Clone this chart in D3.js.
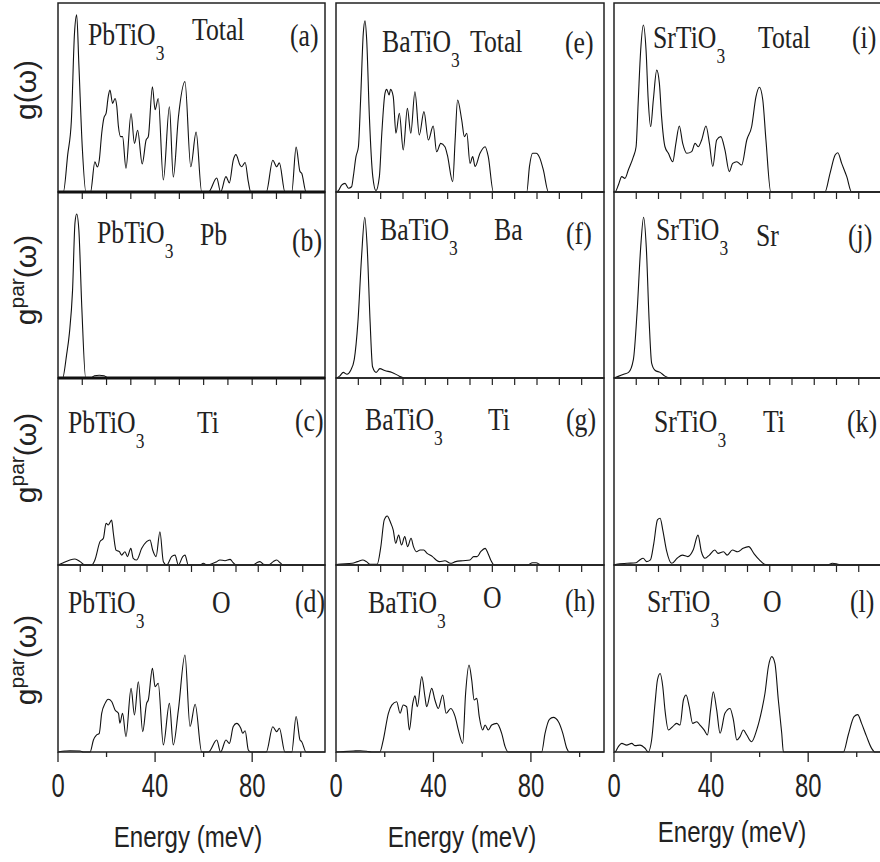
<!DOCTYPE html>
<html><head><meta charset="utf-8">
<script src="https://cdn.jsdelivr.net/npm/d3@7"></script>
<style>body{margin:0;background:#fff}</style>
</head><body><svg id="c" width="880" height="862"></svg>
<script>
// ---------------- data ----------------
const compounds = ["PbTiO", "BaTiO", "SrTiO"];
const partials = [["Total","Pb","Ti","O"],["Total","Ba","Ti","O"],["Total","Sr","Ti","O"]];
const panelLetters = [["(a)","(b)","(c)","(d)"],["(e)","(f)","(g)","(h)"],["(i)","(j)","(k)","(l)"]];
const energyDomain = [0, 110];
const xTickLabels = [0, 40, 80];
const xMinorTicks = [20, 60, 100];
const xAxisTitle = "Energy (meV)";

// [energy meV, g (arb. units)]
const pbTiO3Total = [[0,0],[2.2,0],[4,0.2],[5.5,0.38],[6.8,0.85],[7.7,0.947],[8.6,0.68],[10,0.24],[11.5,0],[13.4,0],[15.2,0.162],[16.2,0.134],[17,0.17],[18,0.313],[19,0.4],[19.8,0.42],[20.7,0.51],[21.4,0.545],[22.5,0.474],[23.5,0.5],[24.2,0.46],[24.9,0.35],[25.8,0.296],[26.6,0.296],[28,0.127],[30.1,0.42],[31.5,0.26],[32.8,0.33],[34.7,0.15],[36.3,0.278],[37.2,0.296],[38.9,0.563],[40,0.44],[41.3,0.5],[43.4,0.064],[45.9,0.456],[47.5,0.08],[49.6,0.4],[52.3,0.59],[54.7,0.135],[56.9,0.32],[59.2,0],[62,0],[65.4,0.075],[67,0],[69.2,0.082],[70.6,0.049],[72.2,0.171],[73.3,0.2],[75,0.144],[75.7,0.135],[77.1,0.158],[78.4,0.055],[79.4,0],[85.8,0],[88.5,0.17],[90.1,0.135],[91.2,0.156],[93.5,0],[96.3,0],[98.1,0.24],[99.7,0.109],[100.4,0.1],[102.2,0],[110,0]];
const pbTiO3Pb = [[0,0],[1.9,0],[3.5,0.12],[4.7,0.24],[6,0.47],[7,0.83],[7.7,0.877],[8.6,0.79],[9.8,0.38],[11.4,0],[13.5,0],[15,0.012],[17,0.015],[19,0.012],[20.8,0],[110,0]];
const pbTiO3Ti = [[0,0],[2.2,0.012],[4.9,0.027],[7,0.032],[9.1,0.018],[11.1,0],[13.9,0],[15.2,0.027],[17.3,0.125],[18.7,0.143],[19.8,0.223],[20.7,0.214],[22.1,0.24],[22.8,0.17],[23.9,0.08],[25.3,0.071],[26.2,0.053],[27.6,0.071],[28.6,0.045],[30,0.089],[31,0.036],[32.4,0.027],[34.5,0.089],[36.5,0.125],[37.9,0.134],[39,0.08],[40.4,0.045],[42,0.178],[43.4,0.018],[44.8,0],[46.8,0.045],[48.2,0.053],[49.6,0],[51.4,0.045],[52.3,0.053],[53.7,0],[58.5,0],[59.9,0.009],[61.3,0],[65.4,0.018],[66.7,0.027],[68.8,0.023],[70.9,0.03],[72.2,0.012],[73.6,0],[80.5,0],[81.9,0.012],[83.2,0.018],[84.6,0.004],[86.7,0],[88.7,0.018],[90.1,0.027],[91.5,0.012],[92.8,0],[110,0]];
const pbTiO3O = [[0,0],[2.9,0.005],[4.9,0.007],[9.1,0.005],[10.4,0],[13.2,0],[14.6,0.064],[15.9,0.091],[17,0.1],[18,0.207],[19.4,0.26],[20.7,0.282],[22.1,0.27],[23.5,0.225],[24.9,0.207],[25.5,0.154],[26.6,0.207],[28,0.082],[30.1,0.34],[31.5,0.198],[33.1,0.376],[34.9,0.109],[36.5,0.26],[37.2,0.278],[38.9,0.447],[40,0.349],[41.3,0.367],[43.4,0.038],[45.9,0.26],[47.5,0.038],[49.6,0.225],[52.3,0.519],[54.4,0.136],[56.5,0.255],[59.2,0],[62,0],[65.4,0.064],[67,0],[69.2,0.064],[70.6,0.046],[72.2,0.136],[73.6,0.153],[75.3,0.127],[76.1,0.1],[77.1,0.114],[78.4,0.011],[79.4,0],[85.8,0],[88.5,0.135],[90.1,0.109],[91.2,0.127],[93.5,0],[96.3,0],[98.1,0.19],[99.7,0.064],[100.4,0.055],[102.2,0],[110,0]];

const baTiO3Total = [[0,0],[0.95,0.007],[2.3,0.037],[3.7,0.046],[5.1,0.02],[6.4,0.028],[7.1,0.082],[8.2,0.189],[9.2,0.242],[10.1,0.492],[11.2,0.849],[11.9,0.916],[12.6,0.813],[13.7,0.403],[15.1,0.082],[16.4,0.007],[17.8,0.082],[18.8,0.314],[20.1,0.528],[20.8,0.549],[21.8,0.519],[22.4,0.549],[23.5,0.51],[24.6,0.314],[26,0.421],[27.6,0.225],[29.3,0.447],[30.7,0.314],[32.4,0.536],[34.2,0.305],[36.1,0.43],[37.9,0.278],[39.9,0.353],[41.3,0.215],[43,0.26],[44.7,0.242],[45.7,0.198],[47.9,0.055],[48.9,0.278],[49.9,0.492],[51.6,0.385],[52.7,0.296],[53.7,0.314],[55,0.153],[56.1,0.189],[57.1,0.136],[59.1,0.207],[61.2,0.242],[62.5,0.189],[64.6,0],[78.3,0],[79.4,0.136],[80.7,0.207],[82.1,0.207],[83.7,0.18],[85.1,0.118],[87.2,0],[110,0]];
const baTiO3Ba = [[0,0],[1.5,0.01],[3,0.03],[4.5,0.02],[6,0.04],[7.5,0.1],[9,0.3],[10.5,0.65],[11.8,0.86],[12.8,0.7],[14,0.3],[15,0.06],[16.5,0.03],[18,0.05],[20,0.04],[23,0.03],[26,0.01],[28,0],[110,0]];
const baTiO3Ti = [[0,0],[0.8,0.004],[6.6,0.009],[8.8,0.018],[11,0.027],[12.5,0.018],[14,0.004],[16.9,0.004],[18.4,0.098],[19.8,0.241],[21,0.262],[22.5,0.223],[23.5,0.187],[24.5,0.116],[25.7,0.16],[26.9,0.107],[28.2,0.152],[29.4,0.098],[30.8,0.143],[31.8,0.098],[33,0.071],[34.5,0.08],[36,0.08],[37.4,0.062],[39.6,0.045],[41.1,0.027],[42.5,0.018],[44.7,0.023],[47,0.009],[49.1,0.018],[52.1,0.023],[55,0.027],[56.5,0.045],[57.9,0.045],[59.4,0.071],[61.2,0.089],[62.4,0.062],[63.5,0.027],[65,0],[78.5,0],[80.7,0.012],[82.1,0.012],[84.3,0],[110,0]];
const baTiO3O = [[0,0],[3,0.002],[7.1,0.005],[9.9,0.007],[12.6,0.004],[14.6,0],[18,0],[19.4,0.064],[21.5,0.207],[22.9,0.251],[24.9,0.269],[26.3,0.207],[27.6,0.251],[29,0.242],[30.1,0.118],[31.5,0.26],[32.4,0.3],[33.4,0.242],[35.2,0.403],[36.5,0.296],[37.2,0.242],[39.3,0.34],[40.6,0.278],[42,0.233],[43.8,0.305],[45.2,0.207],[47.1,0.233],[48.9,0.189],[50.2,0.118],[52,0.046],[53.2,0.314],[54.6,0.465],[55.7,0.385],[56.7,0.278],[57.8,0.287],[58.8,0.189],[60.2,0.118],[61.2,0.144],[62.5,0.118],[63.9,0.144],[66,0.153],[68,0.1],[69.4,0.029],[70.7,0],[84.4,0],[85.8,0.1],[87.6,0.175],[89.2,0.185],[91.3,0.162],[93.1,0.1],[94.7,0.02],[95.8,0],[110,0]];

const srTiO3Total = [[0,0],[0.4,0],[1.8,0.037],[3.2,0.082],[4.5,0.073],[5.9,0.118],[8,0.189],[9.1,0.242],[10,0.492],[11,0.759],[12.1,0.893],[13.2,0.759],[14.1,0.492],[15.1,0.35],[16.2,0.492],[17.6,0.652],[18.7,0.581],[19.6,0.403],[21,0.242],[22.4,0.207],[24.2,0.162],[25.5,0.26],[26.9,0.353],[28.3,0.26],[30,0.207],[32,0.216],[33.4,0.26],[34.7,0.242],[36.1,0.278],[37.9,0.353],[39.3,0.26],[40.7,0.136],[42.3,0.278],[44,0.296],[45.7,0.225],[47.5,0.109],[48.9,0.153],[50.6,0.162],[52.6,0.144],[54.7,0.278],[56.7,0.349],[58.5,0.51],[59.9,0.56],[61.3,0.492],[62.6,0.278],[64.6,0],[86.9,0],[89,0.1],[91.1,0.198],[92.2,0.21],[93.8,0.153],[95.9,0.082],[97.9,0],[110,0]];
const srTiO3Sr = [[0,0],[2,0.01],[4,0.02],[6,0.03],[8,0.1],[9.5,0.35],[11,0.7],[12.2,0.86],[13.3,0.7],[14.5,0.3],[15.5,0.08],[17,0.04],[19,0.03],[21,0.01],[23,0],[110,0]];
const srTiO3Ti = [[0,0],[1,0.004],[5.4,0.009],[9.1,0.012],[10.6,0.027],[12,0.036],[13.5,0.018],[15,0.027],[16.4,0.116],[17.9,0.241],[19,0.25],[20.1,0.187],[21.6,0.08],[23.8,0.009],[26,0.036],[28.2,0.053],[30.4,0.045],[32.6,0.08],[34.6,0.16],[36,0.071],[37.5,0.036],[39.3,0.053],[41.5,0.08],[42.9,0.062],[45.1,0.071],[46.6,0.053],[48.8,0.08],[51,0.071],[53.2,0.089],[55.5,0.098],[57.6,0.062],[59.9,0.027],[62,0.004],[64,0],[87.8,0],[90,0.009],[92.2,0.004],[93.7,0],[110,0]];
const srTiO3O = [[0,0],[0.4,0],[1.8,0.029],[3.2,0.046],[5.2,0.037],[7.3,0.046],[8.7,0.034],[10.7,0.037],[12.8,0.02],[14.1,0],[15.5,0.064],[16.9,0.26],[17.9,0.385],[19,0.42],[20.1,0.349],[21,0.225],[22.4,0.118],[24.2,0.136],[25.8,0.153],[27.2,0.144],[28.6,0.278],[29.7,0.305],[31,0.242],[32.4,0.153],[34.1,0.162],[35.4,0.144],[37.1,0.118],[38.5,0.091],[39.8,0.225],[40.9,0.322],[42.3,0.225],[43.7,0.1],[45.7,0.207],[47.8,0.233],[49.2,0.171],[50.6,0.064],[51.9,0.082],[53.3,0.118],[54.7,0.091],[56.7,0.055],[58.8,0.118],[60.9,0.225],[62.2,0.314],[63.6,0.456],[65,0.51],[66.3,0.474],[67.7,0.278],[69.1,0.1],[69.8,0],[94.5,0],[96.5,0.091],[98.9,0.189],[100.4,0.2],[102,0.153],[104.1,0.082],[106.2,0.018],[107.5,0],[110,0]];

const series = [
  [pbTiO3Total, pbTiO3Pb, pbTiO3Ti, pbTiO3O],
  [baTiO3Total, baTiO3Ba, baTiO3Ti, baTiO3O],
  [srTiO3Total, srTiO3Sr, srTiO3Ti, srTiO3O]
];

// ---------------- layout / style ----------------
const svg = d3.select("#c");
const colRanges = [[58, 325], [336, 604], [614, 881]];
const rowTops = [3, 192, 378, 565];
const rowBottoms = [192, 378, 565, 752];
const panelH = 187;
const serif = "'Liberation Serif','Times New Roman',serif";
const sans = "'Liberation Sans',Arial,sans-serif";
const ink = "#222";

// label placements: [compoundX, compoundY, partX, partY, letterX, letterY]
const labelPos = [
  [[88,45,192,40,290,46],[97,243,200,245,292,251],[68,433,197,433,295,431],[68,613,212,613,295,612]],
  [[382,52,470,52,565,53],[380,240,494,240,566,244],[365,430,488,430,566,430],[368,613,483,608,565,611]],
  [[653,48,758,48,852,48],[656,240,756,246,848,246],[654,432,763,432,847,432],[647,612,763,612,850,612]]
];
// top tick divisions per panel (reference composite uses two spacings)
const topDiv = [[0,11,11,12],[0,12,12,12],[0,12,12,12]];

function serifText(g, x, y, parts, size, sx) {
  const t = g.append("text")
    .attr("transform", `translate(${x},${y}) scale(${sx},1)`)
    .attr("font-family", serif).attr("font-size", size).attr("fill", ink);
  parts.forEach(p => {
    const ts = t.append("tspan").text(p.t);
    if (p.size) ts.attr("font-size", p.size);
    if (p.dy) ts.attr("dy", p.dy);
  });
  return t;
}

for (let c = 0; c < 3; c++) {
  const x = d3.scaleLinear().domain(energyDomain).range(colRanges[c]);
  for (let r = 0; r < 4; r++) {
    const y = d3.scaleLinear().domain([0, 1]).range([rowBottoms[r], rowBottoms[r] - panelH]);
    const g = svg.append("g");
    const line = d3.line().x(d => x(d[0])).y(d => y(d[1])).curve(d3.curveMonotoneX);
    g.append("path").datum(series[c][r]).attr("d", line)
      .attr("fill", "none").attr("stroke", "#111").attr("stroke-width", 1.1);
    g.append("rect").attr("x", colRanges[c][0]).attr("y", rowTops[r])
      .attr("width", colRanges[c][1] - colRanges[c][0]).attr("height", rowBottoms[r] - rowTops[r])
      .attr("fill", "none").attr("stroke", ink).attr("stroke-width", 1.5);
    if (topDiv[c][r]) {
      const n = topDiv[c][r];
      const tx = d3.scaleLinear().domain([0, n]).range(colRanges[c]);
      g.selectAll(null).data(d3.range(1, n)).enter().append("line")
        .attr("x1", d => tx(d)).attr("x2", d => tx(d))
        .attr("y1", rowTops[r]).attr("y2", rowTops[r] + 7)
        .attr("stroke", ink).attr("stroke-width", 1.2);
    }
    const lp = labelPos[c][r];
    serifText(g, lp[0], lp[1], [{t: compounds[c]}, {t: "3", size: 21, dy: 15}], 31, 0.83);
    serifText(g, lp[2], lp[3], [{t: partials[c][r]}], 31, 0.83);
    serifText(g, lp[4], lp[5], [{t: panelLetters[c][r]}], 31, 0.83);
  }
  const yb = rowBottoms[3];
  svg.selectAll(null).data(xTickLabels).enter().append("line")
    .attr("x1", d => x(d)).attr("x2", d => x(d)).attr("y1", yb).attr("y2", yb + 10)
    .attr("stroke", ink).attr("stroke-width", 1.3);
  svg.selectAll(null).data(xMinorTicks).enter().append("line")
    .attr("x1", d => x(d)).attr("x2", d => x(d)).attr("y1", yb).attr("y2", yb + 5)
    .attr("stroke", ink).attr("stroke-width", 1.3);
  svg.selectAll(null).data(xTickLabels).enter().append("text")
    .attr("transform", d => `translate(${x(d)},797) scale(0.7,1)`)
    .attr("text-anchor", "middle").attr("font-family", sans).attr("font-size", 34)
    .attr("fill", ink).text(d => d);
  const titleX = [188, 462, 732][c], titleY = [847, 847, 842][c];
  svg.append("text").attr("transform", `translate(${titleX},${titleY}) scale(0.83,1)`)
    .attr("text-anchor", "middle").attr("font-family", sans).attr("font-size", 29)
    .attr("fill", ink).text(xAxisTitle);
}

[192, 378].forEach(yy => {
  svg.append("line").attr("x1", colRanges[0][0]).attr("x2", colRanges[0][1])
    .attr("y1", yy).attr("y2", yy).attr("stroke", "#111").attr("stroke-width", 3);
});

const yCenters = [90, 280, 458, 660];
yCenters.forEach((cy, r) => {
  const t = svg.append("text").attr("transform", `translate(36,${cy}) rotate(-90)`)
    .attr("text-anchor", "middle").attr("font-family", sans).attr("font-size", 30).attr("fill", ink);
  if (r === 0) {
    t.text("g(ω)");
  } else {
    t.append("tspan").text("g");
    t.append("tspan").attr("font-size", 21).attr("dy", -12).text("par");
    t.append("tspan").attr("dy", 12).text("(ω)");
  }
});
</script>
</body></html>
